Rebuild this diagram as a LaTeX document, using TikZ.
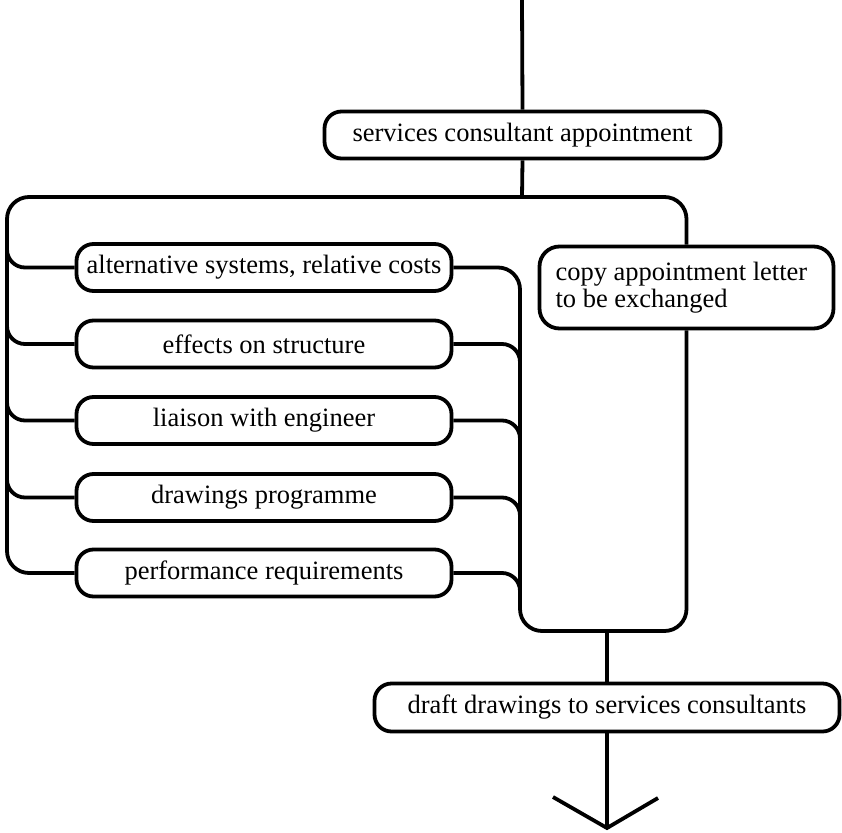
\documentclass[tikz,border=0pt]{standalone}
\usepackage{fontspec}
\setmainfont{Liberation Serif}
\usetikzlibrary{calc}
\begin{document}
\begin{tikzpicture}[x=1pt,y=-1pt,
  every path/.style={line width=3.8pt},
  flowline/.style={draw=black,line width=3.8pt},
  taskbox/.style={draw=black,line width=3.8pt,rounded corners=17pt,
    inner sep=0pt,font=\fontsize{26.5}{27}\selectfont},
  sidebox/.style={taskbox,minimum width=375pt,minimum height=47pt},
  branch/.style={flowline,rounded corners=18pt}]
\useasboundingbox (0,0) rectangle (842,832);

% main stages
\node[taskbox,minimum width=396pt,minimum height=47pt] (appt) at (522.5,135) {services consultant appointment};
\node[taskbox,rounded corners=20pt,minimum width=294pt,minimum height=82pt,
      text width=262pt,inner xsep=16pt,align=flush left] (copy) at (686.5,287.5)
      {copy appointment letter\\to be exchanged};
\node[taskbox,minimum width=465pt,minimum height=48pt] (draft) at (607,707.5) {draft drawings to services consultants};

% parallel activities
\node[sidebox] (alt)  at (264,267.5) {alternative systems, relative costs};
\node[sidebox] (eff)  at (264,344)   {effects on structure};
\node[sidebox] (liai) at (264,420.5) {liaison with engineer};
\node[sidebox] (prog) at (264,497.5) {drawings programme};
\node[sidebox] (perf) at (264,573)   {performance requirements};

% junction points
\coordinate (top)   at (522,0);
\coordinate (split) at (522,197);
\coordinate (ltop)  at (7,197);
\coordinate (rtr)   at (520,631);
\coordinate (merge) at (607,631);
\coordinate (tip)   at (607,828);
\coordinate (barbl) at (553,797);
\coordinate (barbr) at (658,798);

% incoming line and split
\draw[flowline] (top) -- (appt.north);
\draw[flowline] (appt.south) -- (split);
\draw[flowline,rounded corners=22pt] (copy.north) |- (ltop) |- (perf.west);

% left branches
\foreach \b in {alt,eff,liai,prog}{
  \draw[branch] ($(\b.west -| ltop)+(0,-30)$) -- (\b.west -| ltop) -- (\b.west);
}

% right collector
\draw[flowline,rounded corners=22pt] (alt.east) -| (rtr) -| (copy.south);
\foreach \b in {eff,liai,prog,perf}{
  \draw[branch] (\b.east) -- (\b.east -| rtr) -- ($(\b.east -| rtr)+(0,30)$);
}

% output
\draw[flowline] (merge) -- (draft.north);
\draw[flowline] (draft.south) -- (tip);
\draw[flowline,line join=miter] (barbl) -- (tip) -- (barbr);
\end{tikzpicture}
\end{document}
